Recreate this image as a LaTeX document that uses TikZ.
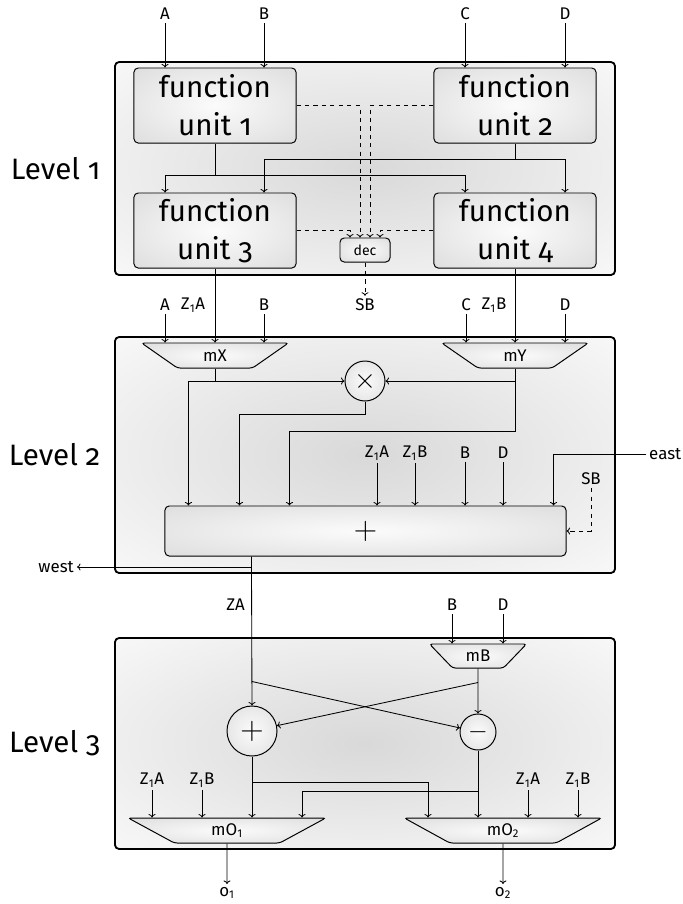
\RequirePackage{fix-cm}
\documentclass[tikz,border=0pt]{standalone}
\usepackage[no-math]{fontspec}
\setmainfont{Fira Sans}[Numbers=OldStyle]
\newfontfamily\liningfont{Fira Sans}[Numbers=Lining]
\newcommand{\lsub}[1]{\textsubscript{\liningfont #1}}
\usetikzlibrary{arrows.meta,calc,positioning,shapes.geometric}

\pgfdeclareradialshading{levelglow}{\pgfpoint{0bp}{0bp}}{color(0bp)=(gray!30); color(38bp)=(gray!4); color(50bp)=(gray!2)}
\pgfdeclareradialshading{partglow}{\pgfpoint{0bp}{0bp}}{color(0bp)=(gray!3); color(42bp)=(gray!30); color(50bp)=(gray!32)}

\tikzset{
  level/.style={draw, line width=1.3pt, rounded corners=3pt, shading=levelglow,
    minimum width=12.5cm, inner sep=0pt},
  levelname/.style={font=\fontsize{21}{25}\selectfont, inner sep=0pt},
  part/.style={draw, line width=0.7pt, shading=partglow},
  unit/.style={part, rounded corners=3pt, minimum width=4.05cm, minimum height=1.875cm,
    align=center, inner sep=0pt, font=\fontsize{21}{27}\selectfont},
  decbox/.style={part, rounded corners=3pt, minimum width=1.25cm, minimum height=0.6cm,
    inner sep=0pt, font=\fontsize{10}{12}\selectfont},
  mux/.style={part, trapezium, trapezium angle=46, trapezium stretches=true,
    shape border rotate=180, rounded corners=2pt, inner sep=0pt,
    minimum height=0.625cm, font=\fontsize{12}{14}\selectfont},
  addbox/.style={part, rounded corners=3pt, minimum width=10.025cm, minimum height=1.25cm,
    inner sep=0pt, font=\fontsize{23}{23}\selectfont},
  opnode/.style={part, circle, inner sep=0pt},
  lbl/.style={inner sep=2pt, font=\fontsize{12}{14}\selectfont},
}

\begin{document}
\begin{tikzpicture}[x=0.025cm,y=-0.025cm,line width=0.6pt,>={To[length=2.5pt,width=5pt]}]
\useasboundingbox (0,0) rectangle (683,904);

% level 1
\node[level, minimum height=5.325cm] (lvl1) at (365,168.5) {};
\node[levelname, left=0.33cm of lvl1] (name1) {Level 1};
\node[unit] (fu1) at (215,105.5) {function\\unit 1};
\node[unit] (fu2) at (515,105.5) {function\\unit 2};
\node[unit] (fu3) at (215,230.5) {function\\unit 3};
\node[unit] (fu4) at (515,230.5) {function\\unit 4};
\node[decbox] (dec) at (365,250) {dec};

\foreach \n/\x/\t/\u in {inA/165/A/fu1,inB/264/B/fu1,inC/465/C/fu2,inD/565/D/fu2}{
  \node[lbl] (\n) at (\x,14) {\t};
  \draw[->] (\n) -- (\n |- \u.north);
}
\draw (fu1.south) -- ++(0,32) coordinate (b1);
\draw[->] (b1) -| (fu3.north -| inA);
\draw[->] (b1) -| (fu4.north -| inC);
\draw (fu2.south) -- ++(0,16) coordinate (b2);
\draw[->] (b2) -| (fu3.north -| inB);
\draw[->] (b2) -| (fu4.north -| inD);

\draw[dashed,->] (fu1.east) -| ($(dec.north)+(-5,0)$);
\draw[dashed,->] (fu2.west) -| ($(dec.north)+(5,0)$);
\draw[dashed,->] (fu3.east) -| ($(dec.north)+(-15,0)$);
\draw[dashed,->] (fu4.west) -| ($(dec.north)+(15,0)$);
\node[lbl] (sb1) at (365,305) {SB};
\draw[dashed,->] (dec.south) -- (sb1);

% level 2
\node[level, minimum height=5.9cm] (lvl2) at (365,455) {};
\node[levelname, left=0.33cm of lvl2] (name2) {Level 2};
\node[mux, minimum width=3.675cm] (mX) at (215,355.5) {mX};
\node[mux, minimum width=3.675cm] (mY) at (515,355.5) {mY};
\node[opnode, minimum size=1cm, font=\fontsize{20}{20}\selectfont] (mul) at (365,381) {$\times$};
\node[addbox] (add) at (365.5,531) {$+$};

\node[lbl] (a2) at (165,305) {A};
\node[lbl] (za2) at (193,305) {Z\lsub{1}A};
\node[lbl] (b2l) at (264,305) {B};
\node[lbl] (c2) at (466,305) {C};
\node[lbl] (zb2) at (494,305) {Z\lsub{1}B};
\node[lbl] (d2) at (565,305) {D};
\foreach \n/\m in {a2/mX,b2l/mX,c2/mY,d2/mY}
  \draw[->] (\n) -- (\n |- \m.north);
\draw[->] (fu3.south) -- (fu3.south |- mX.north);
\draw[->] (fu4.south) -- (fu4.south |- mY.north);

\draw (mX.south) -- (mX.south |- mul.west) coordinate (j1);
\draw[->] (j1) -- (mul.west);
\draw[->] (j1) -| ($(add.north west)+(24,0)$);
\draw[->] (mul.south) -- ++(0,13) -| ($(add.north west)+(75,0)$);
\draw (mY.south) -- (mY.south |- mul.east) coordinate (j2);
\draw[->] (j2) -- (mul.east);
\draw[->] (j2) -- ++(0,50) -| ($(add.north west)+(125,0)$);

\foreach \n/\x/\t in {za3/377/{Z\lsub{1}A},zb3/415/{Z\lsub{1}B},b3/465/B,d3/503/D}{
  \node[lbl] (\n) at (\x,453) {\t};
  \draw[->] (\n) -- (\n |- add.north);
}
\node[lbl, anchor=west] (east) at (646,454) {east};
\draw[->] (east.west) -| ($(add.north east)+(-13,0)$);
\node[lbl] (sb2) at (591,479) {SB};
\draw[dashed,->] (sb2.south) |- (add.east);

\coordinate (zaout) at ($(add.south west)+(87,0)$);
\node[lbl, anchor=east] (west) at (77,567) {west};
\draw[->] (zaout |- west) -- (west);

% level 3
\node[level, minimum height=5.275cm] (lvl3) at (365,743.5) {};
\node[levelname, left=0.33cm of lvl3] (name3) {Level 3};
\node[mux, minimum width=2.425cm, minimum height=0.6cm] (mB) at (478,656) {mB};
\node[opnode, minimum size=1.25cm, font=\fontsize{23}{23}\selectfont] (plus) at (252,731) {$+$};
\node[opnode, minimum size=0.9cm, font=\fontsize{18}{18}\selectfont] (minus) at (478,732) {$-$};
\node[mux, minimum width=4.95cm] (mO1) at (227,830.5) {mO\lsub{1}};
\node[mux, minimum width=4.95cm] (mO2) at (503,830.5) {mO\lsub{2}};

\node[lbl, anchor=east] (zalbl) at (248,605) {ZA};
\draw[->] (zaout) -- (plus.north);
\node[lbl] (b4) at (452,605) {B};
\node[lbl] (d4) at (503,605) {D};
\draw[->] (b4) -- (b4 |- mB.north);
\draw[->] (d4) -- (d4 |- mB.north);

\draw[->] (mB.south) -- (minus.north);
\draw[->] ($(plus.north)+(0,-24)$) -- (minus);
\draw[->] ($(mB.south)+(0,14)$) -- (plus);

\draw[->] (plus.south) -- (plus.south |- mO1.north);
\draw[->] ($(plus.south)+(0,26)$) -| ($(mO2.north)+(-75,0)$);
\draw[->] (minus.south) -- (minus.south |- mO2.north);
\draw[->] ($(minus.south)+(0,41)$) -| ($(mO1.north)+(75,0)$);

\foreach \n/\x/\t/\m in {p1/152/{Z\lsub{1}A}/mO1,p2/202/{Z\lsub{1}B}/mO1,
                         q1/528/{Z\lsub{1}A}/mO2,q2/578/{Z\lsub{1}B}/mO2}{
  \node[lbl] (\n) at (\x,780) {\t};
  \draw[->] (\n) -- (\n |- \m.north);
}
\node[lbl] (o1) at (227,893) {o\lsub{1}};
\node[lbl] (o2) at (503,893) {o\lsub{2}};
\draw[->] (mO1.south) -- (o1);
\draw[->] (mO2.south) -- (o2);
\end{tikzpicture}
\end{document}
